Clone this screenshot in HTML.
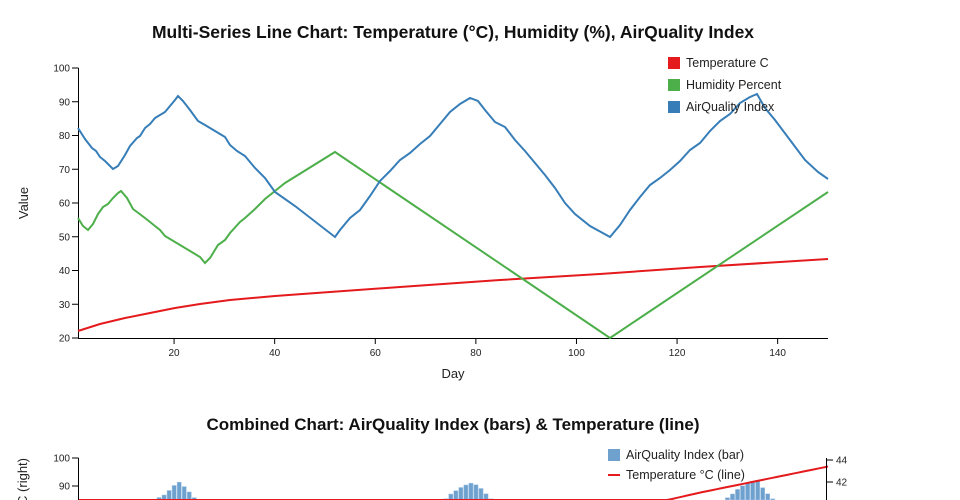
<!DOCTYPE html>
<html><head><meta charset="utf-8"><style>
html,body{margin:0;background:#fff;width:960px;height:500px;overflow:hidden}
svg{font-family:"Liberation Sans",sans-serif;display:block;overflow:hidden}
</style></head><body>
<svg id="s" width="960" height="500" xmlns="http://www.w3.org/2000/svg">
<defs><clipPath id="cp"><rect x="0" y="0" width="960" height="500"/></clipPath></defs>
<g clip-path="url(#cp)">
<text x="453" y="38" text-anchor="middle" font-size="17.5" font-weight="bold" fill="#111">Multi-Series Line Chart: Temperature (°C), Humidity (%), AirQuality Index</text>
<g id="ax1" font-size="10" fill="#222"></g>
<text x="453" y="378" text-anchor="middle" font-size="13" fill="#222">Day</text>
<text transform="translate(28,203) rotate(-90)" text-anchor="middle" font-size="13" fill="#222">Value</text>
<path id="red" fill="none" stroke="#e41a1c" stroke-width="2"/>
<path id="green" fill="none" stroke="#4daf4a" stroke-width="2"/>
<path id="blue" fill="none" stroke="#377eb8" stroke-width="2"/>
<g font-size="12.5" fill="#222">
<rect x="668" y="57" width="12" height="12" fill="#e41a1c"/><text x="686" y="67">Temperature C</text>
<rect x="668" y="79" width="12" height="12" fill="#4daf4a"/><text x="686" y="89">Humidity Percent</text>
<rect x="668" y="101" width="12" height="12" fill="#377eb8"/><text x="686" y="111">AirQuality Index</text>
</g>
<text x="453" y="430" text-anchor="middle" font-size="17" font-weight="bold" fill="#111">Combined Chart: AirQuality Index (bars) &amp; Temperature (line)</text>
<g id="bars"></g>
<path id="red2" fill="none" stroke="#e41a1c" stroke-width="2"/>
<g id="ax2" font-size="10" fill="#222"></g>
<text transform="translate(27,458) rotate(-90)" text-anchor="end" font-size="13" fill="#222">Temperature °C (right)</text>
<g font-size="12.5" fill="#222">
<rect x="608" y="449" width="12" height="12" fill="#6fa1cf"/><text x="626" y="459">AirQuality Index (bar)</text>
<line x1="608" y1="475" x2="620" y2="475" stroke="#e41a1c" stroke-width="2"/><text x="626" y="479">Temperature °C (line)</text>
</g>
</g>
</svg>
<script>
const NS="http://www.w3.org/2000/svg";
function el(p,t,a,txt){const e=document.createElementNS(NS,t);for(const k in a)e.setAttribute(k,a[k]);if(txt!==undefined)e.textContent=txt;p.appendChild(e);return e;}
const blue=[[78,128],[85,139],[92,148],[96,151],[100,157],[105,161],[113,169],[118,166],[125,155],[130,146],[137,138],[140,136],[145,128],[150,124],[155,118],[160,115],[165,112],[170,106],[175,100],[178,96],[183,101],[190,110],[198,121],[205,125],[215,131],[225,137],[230,145],[237,151],[245,156],[255,168],[265,178],[275,192],[295,206],[335,237],[340,230],[350,218],[360,210],[370,196],[380,181],[390,171],[400,160],[410,153],[420,144],[430,136],[440,124],[450,112],[460,104],[470,98],[478,101],[485,110],[495,122],[505,127],[515,140],[525,151],[535,163],[545,175],[555,188],[565,203],[575,214],[590,226],[610,237],[620,225],[630,210],[640,197],[650,185],[660,178],[670,170],[680,161],[690,150],[700,143],[710,131],[720,121],[730,114],[740,103],[750,97],[757,94],[765,108],[775,120],[790,140],[805,160],[818,172],[828,179]];
const green=[[78,218],[83,226],[88,230],[93,224],[98,214],[103,207],[108,204],[113,198],[118,193],[121,191],[127,198],[133,209],[145,218],[155,226],[160,230],[165,236],[200,257],[205,263],[210,258],[218,245],[225,240],[230,233],[240,222],[245,218],[255,209],[265,199],[275,191],[285,183],[335,152],[610,338],[828,192]];
const red=[[78,331],[100,324],[125,318],[150,313],[175,308],[200,304],[230,300],[275,296],[330,292],[400,287],[500,280],[600,274],[700,267],[828,259]];
const P=a=>"M"+a.map(p=>p.join(",")).join("L");
document.getElementById("blue").setAttribute("d",P(blue));
document.getElementById("green").setAttribute("d",P(green));
document.getElementById("red").setAttribute("d",P(red));
function interp(a,x){for(let i=0;i<a.length-1;i++){if(x>=a[i][0]&&x<=a[i+1][0]){const t=(x-a[i][0])/(a[i+1][0]-a[i][0]);return a[i][1]+t*(a[i+1][1]-a[i][1]);}}return a[a.length-1][1];}
const ax=document.getElementById("ax1");
el(ax,"path",{d:"M78.5,68V338.5H828",stroke:"#000",fill:"none"});
for(let v=20;v<=100;v+=10){const y=338-(v-20)*3.375;el(ax,"line",{x1:72,x2:78.5,y1:y,y2:y,stroke:"#000"});el(ax,"text",{x:70,y:y+3.5,"text-anchor":"end"},v);}
for(let d=20;d<=140;d+=20){const x=78.5+(d-1)*5.03;el(ax,"line",{x1:x,x2:x,y1:338,y2:344,stroke:"#000"});el(ax,"text",{x:x,y:356,"text-anchor":"middle"},d);}
const bars=document.getElementById("bars");
const r2=[];
for(let d=1;d<=150;d++){const x=78.5+(d-1)*5.03;const v=20+(338-interp(blue,x))/3.375;const y=458+(100-v)*2.8;
if(y<500)el(bars,"rect",{x:x-2,y:y,width:4.2,height:500-y,fill:"#6fa1cf",stroke:"#a9c8e6","stroke-width":0.5});
const tv=20+(338-interp(red,x))/3.375;r2.push([x,Math.min(500,460+(44-tv)*11)]);}
document.getElementById("red2").setAttribute("d",P(r2));
const ax2=document.getElementById("ax2");
el(ax2,"path",{d:"M78.5,458V500",stroke:"#000",fill:"none"});
el(ax2,"path",{d:"M826.5,458V500",stroke:"#000",fill:"none"});
[[100,458],[90,486]].forEach(([v,y])=>{el(ax2,"line",{x1:72,x2:78.5,y1:y,y2:y,stroke:"#000"});el(ax2,"text",{x:70,y:y+3.5,"text-anchor":"end"},v);});
[[44,460],[42,482]].forEach(([v,y])=>{el(ax2,"line",{x1:826.5,x2:833,y1:y,y2:y,stroke:"#000"});el(ax2,"text",{x:836,y:y+3.5},v);});
</script>
</body></html>
